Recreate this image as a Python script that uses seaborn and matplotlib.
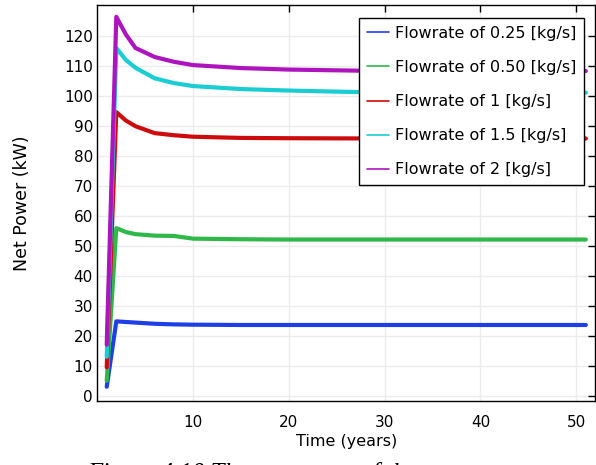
import numpy as np
import pandas as pd
import seaborn as sns
from matplotlib import pyplot as plt

# time in years
time = [1, 2, 3, 4, 6, 8, 10, 15, 20, 30, 40, 51]

# net power (kW) for each flowrate
power_025 = [3.0, 24.8, 24.6, 24.4, 24.0, 23.8, 23.7, 23.6, 23.6, 23.6, 23.6, 23.6]
power_050 = [5.0, 55.9, 54.6, 53.9, 53.4, 53.3, 52.4, 52.2, 52.1, 52.1, 52.1, 52.1]
power_1 = [9.5, 94.6, 91.8, 89.9, 87.6, 86.9, 86.4, 86.0, 85.9, 85.8, 85.8, 85.8]
power_15 = [13.0, 116.0, 112.0, 109.4, 105.9, 104.3, 103.3, 102.3, 101.8, 101.1, 101.1, 101.1]
power_2 = [17.0, 126.4, 120.5, 116.0, 113.0, 111.4, 110.3, 109.3, 108.8, 108.3, 108.3, 108.3]

labels = ["Flowrate of 0.25 [kg/s]", "Flowrate of 0.50 [kg/s]", "Flowrate of 1 [kg/s]",
          "Flowrate of 1.5 [kg/s]", "Flowrate of 2 [kg/s]"]
colors = ["#1f3fe6", "#2fb84a", "#cc0c0c", "#19cdd3", "#ad14be"]

frames = []
for lab, vals in zip(labels, [power_025, power_050, power_1, power_15, power_2]):
    frames.append(pd.DataFrame({"Time": time, "Power": vals, "Series": lab}))
df = pd.concat(frames, ignore_index=True)

sns.set_style("whitegrid", {"grid.color": "#ececec", "axes.edgecolor": "black",
                            "text.color": "black", "axes.labelcolor": "black"})
plt.rcParams['font.family'] = ['DejaVu Sans']

fig = plt.figure(figsize=(5.96, 4.65), dpi=100)
ax = fig.add_axes([0.163, 0.138, 0.836, 0.851])

sns.lineplot(data=df, x="Time", y="Power", hue="Series", hue_order=labels,
             palette=colors, linewidth=3.0, sort=False, ax=ax)

ax.set_xlim(0, 52)
ax.set_ylim(-1.7, 130.3)
ax.set_xticks([10, 20, 30, 40, 50])
ax.set_yticks(np.arange(0, 121, 10))
ax.tick_params(direction="in", top=True, right=True, length=5, width=1,
               labelsize=11, pad=3, colors="black")
ax.tick_params(axis="x", pad=10)
for s in ax.spines.values():
    s.set_color("black")
    s.set_linewidth(1)
ax.grid(True, color="#ececec", linewidth=1)

ax.set_xlabel("Time (years)", fontsize=11.5, labelpad=3)
ax.set_ylabel("Net Power (kW)", fontsize=12.5, labelpad=24)

leg = ax.legend(loc="upper right", bbox_to_anchor=(0.978, 0.968), borderaxespad=0,
                fontsize=11.5, frameon=True, fancybox=False, edgecolor="black",
                framealpha=1, handlelength=1.4, handletextpad=0.35, labelspacing=1.2,
                borderpad=0.5)
leg.get_frame().set_linewidth(1)
for h in leg.get_lines():
    h.set_linewidth(1.2)

fig.text(0.146, -0.032, "Figure 4.10 The net power of the", fontsize=18,
         family="Liberation Serif", style="italic", va="baseline")

fig.savefig("out.png", dpi=100)
